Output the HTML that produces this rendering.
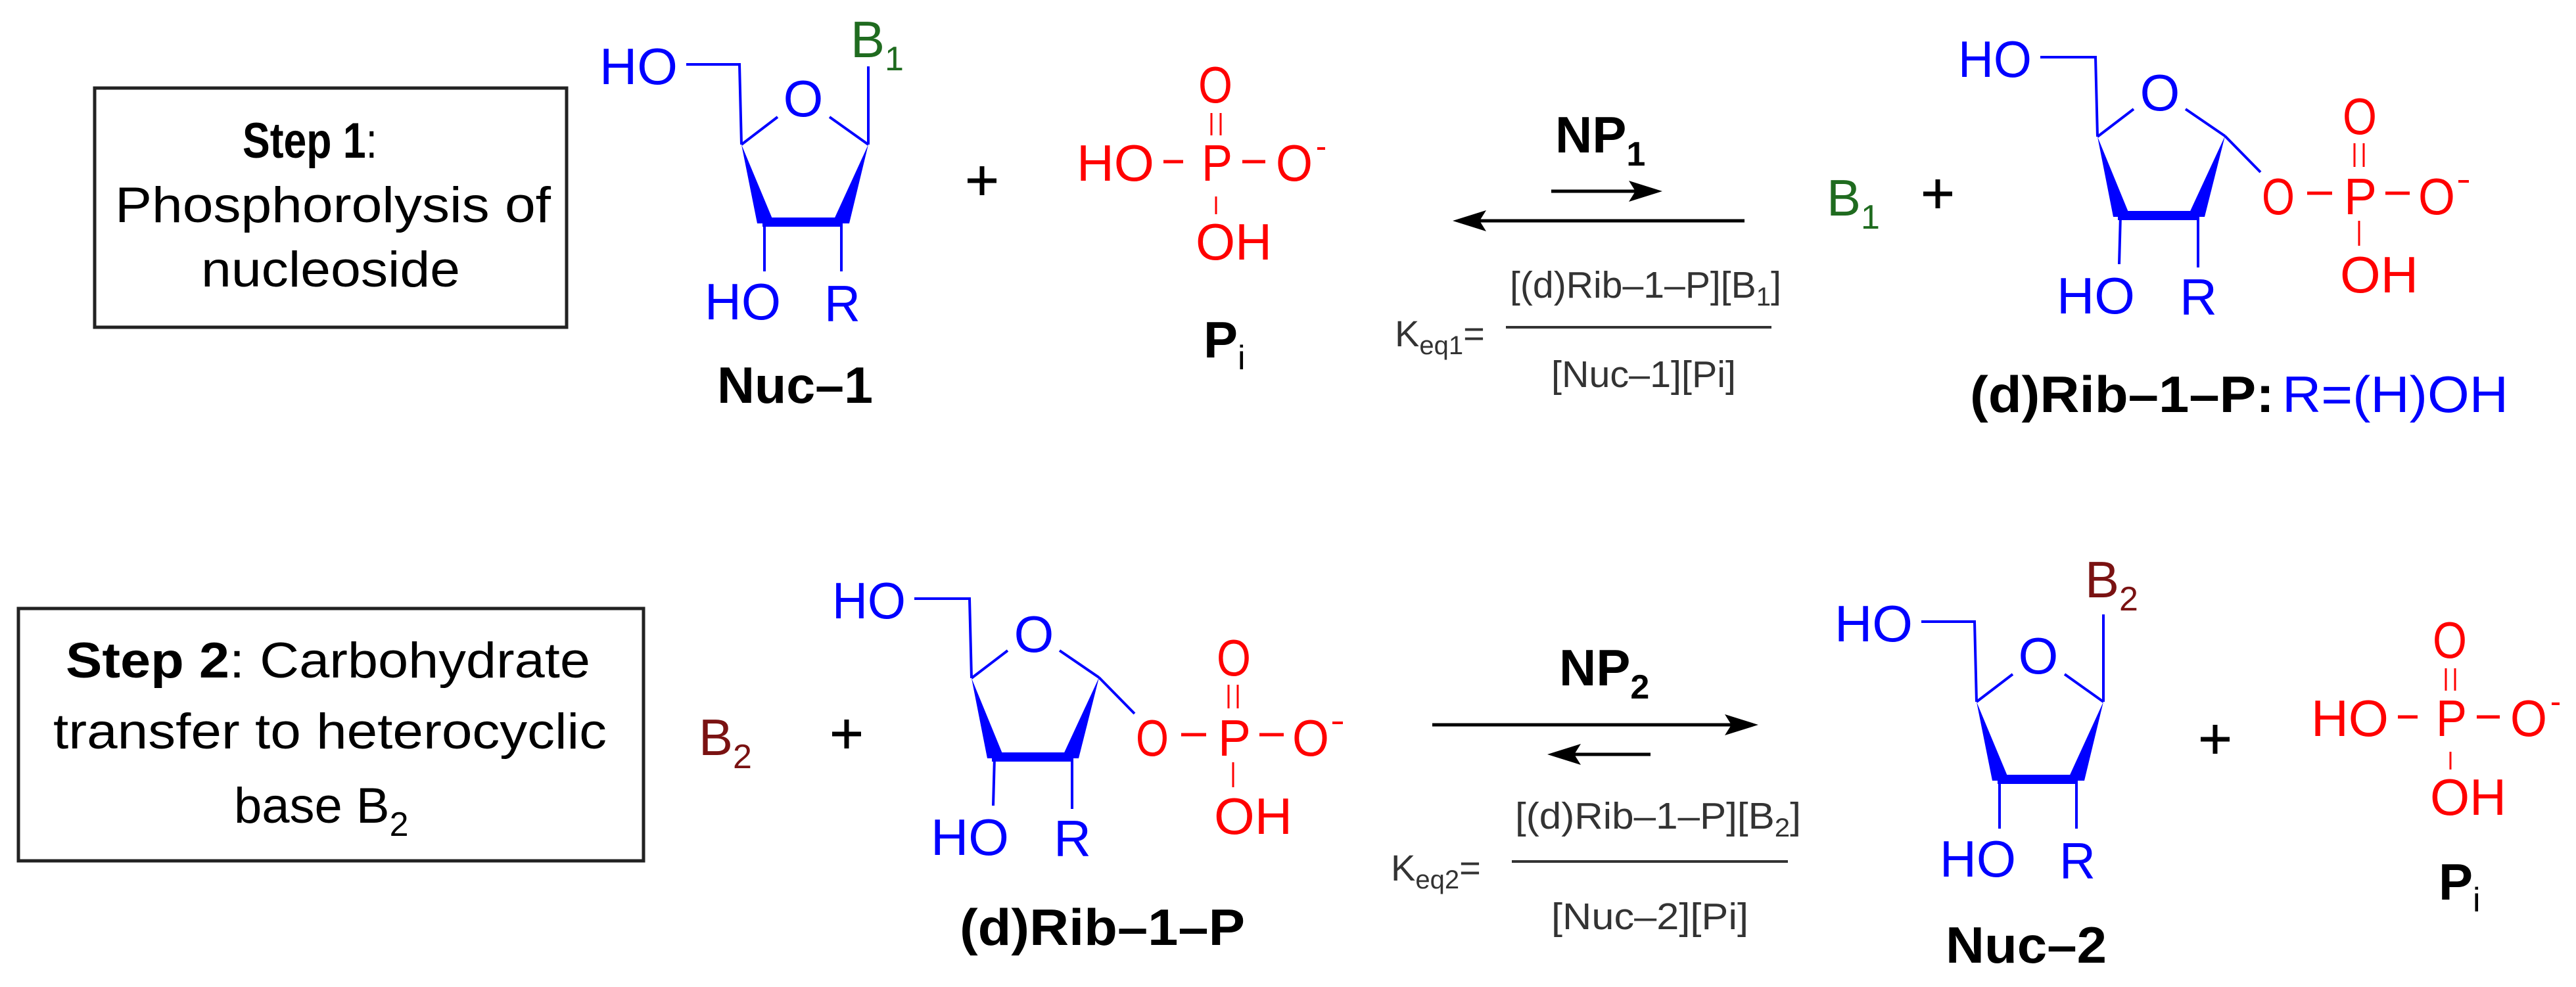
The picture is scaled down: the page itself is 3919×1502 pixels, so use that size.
<!DOCTYPE html>
<html><head><meta charset="utf-8"><style>
html,body{margin:0;padding:0;background:#fff;}
svg{display:block;}
text{font-family:"Liberation Sans",Arial,sans-serif;}
</style></head><body>
<svg width="3919" height="1502" viewBox="0 0 3919 1502" xmlns="http://www.w3.org/2000/svg">
<defs>
<marker id="ah" viewBox="0 0 10 10" refX="9" refY="5" markerWidth="10" markerHeight="10" markerUnits="userSpaceOnUse"></marker>
</defs>
<rect width="3919" height="1502" fill="#fff"/>

<!-- Step 1 box -->
<rect x="144" y="134" width="718" height="364" fill="none" stroke="#222" stroke-width="5"/>
<text x="369" y="240" font-size="76" font-weight="bold" textLength="205" lengthAdjust="spacingAndGlyphs">Step 1<tspan font-weight="normal">:</tspan></text>
<text x="175" y="338" font-size="76" textLength="663" lengthAdjust="spacingAndGlyphs">Phosphorolysis of</text>
<text x="306" y="436" font-size="76" textLength="394" lengthAdjust="spacingAndGlyphs">nucleoside</text>

<!-- Nuc-1 -->
<g id="nuc1">
<text x="912" y="128" font-size="78" fill="#0000ff" textLength="119" lengthAdjust="spacingAndGlyphs">HO</text>
<g stroke="#0000ff" stroke-width="4" fill="none">
<polyline points="1044,98 1125,98 1128,220"/>
<line x1="1128" y1="220" x2="1183" y2="178"/>
<line x1="1262" y1="178" x2="1321" y2="220"/>
<line x1="1163" y1="338" x2="1163" y2="413"/>
<line x1="1280" y1="338" x2="1280" y2="413"/>
</g>
<text x="1222" y="177" font-size="78" fill="#0000ff" text-anchor="middle">O</text>
<polygon points="1128,220 1152,340 1178,340" fill="#0000ff"/>
<polygon points="1321,220 1266,340 1292,340" fill="#0000ff"/>
<rect x="1160" y="331" width="122" height="14" fill="#0000ff"/>
<text x="1072" y="486" font-size="78" fill="#0000ff" textLength="116" lengthAdjust="spacingAndGlyphs">HO</text>
<text x="1254" y="489" font-size="78" fill="#0000ff" textLength="55" lengthAdjust="spacingAndGlyphs">R</text>
</g>
<line x1="1321" y1="101" x2="1321" y2="220" stroke="#0000ff" stroke-width="4"/>
<text x="1294" y="87" font-size="78" fill="#1f6b1f">B<tspan font-size="52" dy="20">1</tspan></text>
<text x="1091" y="613" font-size="78" font-weight="bold" textLength="237" lengthAdjust="spacingAndGlyphs">Nuc–1</text>

<!-- plus -->
<g stroke="#000" stroke-width="7">
<line x1="1472" y1="275" x2="1516" y2="275"/><line x1="1494" y1="253" x2="1494" y2="297"/>
</g>

<!-- Phosphate Pi -->
<g id="pi">
<text x="1638" y="275" font-size="78" fill="#ff0000" textLength="118" lengthAdjust="spacingAndGlyphs">HO</text>
<line x1="1770" y1="246" x2="1800" y2="246" stroke="#ff0000" stroke-width="5"/>
<text x="1828" y="275" font-size="78" fill="#ff0000" textLength="47" lengthAdjust="spacingAndGlyphs">P</text>
<line x1="1890" y1="246" x2="1925" y2="246" stroke="#ff0000" stroke-width="5"/>
<text x="1941" y="275" font-size="78" fill="#ff0000" textLength="56" lengthAdjust="spacingAndGlyphs">O</text>
<line x1="2004" y1="226" x2="2016" y2="226" stroke="#ff0000" stroke-width="4"/>
<text x="1823" y="156" font-size="78" fill="#ff0000" textLength="52" lengthAdjust="spacingAndGlyphs">O</text>
<g stroke="#ff0000" stroke-width="3">
<line x1="1843" y1="172" x2="1843" y2="206"/><line x1="1857" y1="172" x2="1857" y2="206"/>
<line x1="1850" y1="299" x2="1850" y2="326"/>
</g>
<text x="1819" y="395" font-size="78" fill="#ff0000" textLength="116" lengthAdjust="spacingAndGlyphs">OH</text>
</g>
<text x="1831" y="544" font-size="78" font-weight="bold">P<tspan font-size="52" dy="18" font-weight="normal">i</tspan></text>

<!-- NP1 arrows -->
<text x="2366" y="232" font-size="78" font-weight="bold">NP<tspan font-size="52" dy="20">1</tspan></text>
<line x1="2360" y1="291" x2="2500" y2="291" stroke="#000" stroke-width="5"/>
<polygon points="2529,291 2478,275 2488,291 2478,307" fill="#000"/>
<line x1="2240" y1="336" x2="2654" y2="336" stroke="#000" stroke-width="5"/>
<polygon points="2210,336 2261,320 2251,336 2261,352" fill="#000"/>
<g fill="#333">
<text x="2122" y="527" font-size="56">K<tspan font-size="40" dy="12">eq1</tspan><tspan dy="-12">=</tspan></text>
<text x="2297" y="453" font-size="57" textLength="413" lengthAdjust="spacingAndGlyphs">[(d)Rib–1–P][B<tspan font-size="40" dy="12">1</tspan><tspan dy="-12">]</tspan></text>
<rect x="2291" y="496" width="404" height="4"/>
<text x="2360" y="589" font-size="57" textLength="281" lengthAdjust="spacingAndGlyphs">[Nuc–1][Pi]</text>
</g>

<text x="2779" y="328" font-size="78" fill="#1f6b1f">B<tspan font-size="52" dy="20">1</tspan></text>
<g stroke="#000" stroke-width="7">
<line x1="2926" y1="295" x2="2970" y2="295"/><line x1="2948" y1="273" x2="2948" y2="317"/>
</g>

<!-- Rib-1-P top -->
<g id="ribp">
<text x="2979" y="117" font-size="78" fill="#0000ff" textLength="112" lengthAdjust="spacingAndGlyphs">HO</text>
<g stroke="#0000ff" stroke-width="4" fill="none">
<polyline points="3104,87 3188,87 3191,208"/>
<line x1="3191" y1="208" x2="3246" y2="166"/>
<line x1="3325" y1="166" x2="3385" y2="207"/>
<line x1="3385" y1="207" x2="3439" y2="262"/>
<line x1="3226" y1="328" x2="3224" y2="402"/>
<line x1="3344" y1="328" x2="3344" y2="407"/>
</g>
<text x="3286" y="168" font-size="78" fill="#0000ff" text-anchor="middle">O</text>
<polygon points="3191,208 3215,330 3241,330" fill="#0000ff"/>
<polygon points="3385,207 3328,330 3354,330" fill="#0000ff"/>
<rect x="3222" y="321" width="124" height="14" fill="#0000ff"/>
<text x="3129" y="477" font-size="78" fill="#0000ff" textLength="119" lengthAdjust="spacingAndGlyphs">HO</text>
<text x="3316" y="479" font-size="78" fill="#0000ff" textLength="57" lengthAdjust="spacingAndGlyphs">R</text>
<text x="3441" y="326" font-size="78" fill="#ff0000" textLength="50" lengthAdjust="spacingAndGlyphs">O</text>
<line x1="3510" y1="294" x2="3548" y2="294" stroke="#ff0000" stroke-width="5"/>
<text x="3566" y="326" font-size="78" fill="#ff0000" textLength="50" lengthAdjust="spacingAndGlyphs">P</text>
<line x1="3629" y1="294" x2="3666" y2="294" stroke="#ff0000" stroke-width="5"/>
<text x="3679" y="326" font-size="78" fill="#ff0000" textLength="56" lengthAdjust="spacingAndGlyphs">O</text>
<line x1="3740" y1="276" x2="3756" y2="276" stroke="#ff0000" stroke-width="4"/>
<text x="3564" y="204" font-size="78" fill="#ff0000" textLength="52" lengthAdjust="spacingAndGlyphs">O</text>
<g stroke="#ff0000" stroke-width="3">
<line x1="3582" y1="218" x2="3582" y2="254"/><line x1="3596" y1="218" x2="3596" y2="254"/>
<line x1="3589" y1="336" x2="3589" y2="374"/>
</g>
<text x="3560" y="445" font-size="78" fill="#ff0000" textLength="119" lengthAdjust="spacingAndGlyphs">OH</text>
</g>
<text x="2997" y="627" font-size="78" font-weight="bold" textLength="463" lengthAdjust="spacingAndGlyphs">(d)Rib–1–P:</text>
<text x="3472" y="627" font-size="78" fill="#0000ff" textLength="344" lengthAdjust="spacingAndGlyphs">R=(H)OH</text>

<!-- Step 2 box -->
<rect x="28" y="926" width="951" height="384" fill="none" stroke="#222" stroke-width="5"/>
<text x="100" y="1031" font-size="76" textLength="798" lengthAdjust="spacingAndGlyphs"><tspan font-weight="bold">Step 2</tspan>: Carbohydrate</text>
<text x="81" y="1139" font-size="76" textLength="842" lengthAdjust="spacingAndGlyphs">transfer to heterocyclic</text>
<text x="356" y="1252" font-size="76">base B<tspan font-size="52" dy="20">2</tspan></text>

<text x="1063" y="1149" font-size="78" fill="#7a1212">B<tspan font-size="52" dy="20">2</tspan></text>
<g stroke="#000" stroke-width="7">
<line x1="1266" y1="1117" x2="1310" y2="1117"/><line x1="1288" y1="1095" x2="1288" y2="1139"/>
</g>

<!-- Rib-1-P bottom -->
<g transform="translate(-1713,824)">
<text x="2979" y="117" font-size="78" fill="#0000ff" textLength="112" lengthAdjust="spacingAndGlyphs">HO</text>
<g stroke="#0000ff" stroke-width="4" fill="none">
<polyline points="3104,87 3188,87 3191,208"/>
<line x1="3191" y1="208" x2="3246" y2="166"/>
<line x1="3325" y1="166" x2="3385" y2="207"/>
<line x1="3385" y1="207" x2="3439" y2="262"/>
<line x1="3226" y1="328" x2="3224" y2="402"/>
<line x1="3344" y1="328" x2="3344" y2="407"/>
</g>
<text x="3286" y="168" font-size="78" fill="#0000ff" text-anchor="middle">O</text>
<polygon points="3191,208 3215,330 3241,330" fill="#0000ff"/>
<polygon points="3385,207 3328,330 3354,330" fill="#0000ff"/>
<rect x="3222" y="321" width="124" height="14" fill="#0000ff"/>
<text x="3129" y="477" font-size="78" fill="#0000ff" textLength="119" lengthAdjust="spacingAndGlyphs">HO</text>
<text x="3316" y="479" font-size="78" fill="#0000ff" textLength="57" lengthAdjust="spacingAndGlyphs">R</text>
<text x="3441" y="326" font-size="78" fill="#ff0000" textLength="50" lengthAdjust="spacingAndGlyphs">O</text>
<line x1="3510" y1="294" x2="3548" y2="294" stroke="#ff0000" stroke-width="5"/>
<text x="3566" y="326" font-size="78" fill="#ff0000" textLength="50" lengthAdjust="spacingAndGlyphs">P</text>
<line x1="3629" y1="294" x2="3666" y2="294" stroke="#ff0000" stroke-width="5"/>
<text x="3679" y="326" font-size="78" fill="#ff0000" textLength="56" lengthAdjust="spacingAndGlyphs">O</text>
<line x1="3740" y1="276" x2="3756" y2="276" stroke="#ff0000" stroke-width="4"/>
<text x="3564" y="204" font-size="78" fill="#ff0000" textLength="52" lengthAdjust="spacingAndGlyphs">O</text>
<g stroke="#ff0000" stroke-width="3">
<line x1="3582" y1="218" x2="3582" y2="254"/><line x1="3596" y1="218" x2="3596" y2="254"/>
<line x1="3589" y1="336" x2="3589" y2="374"/>
</g>
<text x="3560" y="445" font-size="78" fill="#ff0000" textLength="119" lengthAdjust="spacingAndGlyphs">OH</text>
</g>
<text x="1460" y="1438" font-size="78" font-weight="bold" textLength="434" lengthAdjust="spacingAndGlyphs">(d)Rib–1–P</text>

<!-- NP2 arrows -->
<text x="2372" y="1043" font-size="78" font-weight="bold">NP<tspan font-size="52" dy="20">2</tspan></text>
<line x1="2179" y1="1103" x2="2645" y2="1103" stroke="#000" stroke-width="5"/>
<polygon points="2675,1103 2624,1087 2634,1103 2624,1119" fill="#000"/>
<line x1="2380" y1="1148" x2="2511" y2="1148" stroke="#000" stroke-width="5"/>
<polygon points="2354,1148 2405,1132 2395,1148 2405,1164" fill="#000"/>
<g fill="#333">
<text x="2116" y="1340" font-size="56">K<tspan font-size="40" dy="12">eq2</tspan><tspan dy="-12">=</tspan></text>
<text x="2305" y="1261" font-size="57" textLength="435" lengthAdjust="spacingAndGlyphs">[(d)Rib–1–P][B<tspan font-size="40" dy="12">2</tspan><tspan dy="-12">]</tspan></text>
<rect x="2300" y="1309" width="420" height="4"/>
<text x="2360" y="1414" font-size="57" textLength="300" lengthAdjust="spacingAndGlyphs">[Nuc–2][Pi]</text>
</g>

<!-- Nuc-2 -->
<g transform="translate(1879,848)">
<text x="912" y="128" font-size="78" fill="#0000ff" textLength="119" lengthAdjust="spacingAndGlyphs">HO</text>
<g stroke="#0000ff" stroke-width="4" fill="none">
<polyline points="1044,98 1125,98 1128,220"/>
<line x1="1128" y1="220" x2="1183" y2="178"/>
<line x1="1262" y1="178" x2="1321" y2="220"/>
<line x1="1163" y1="338" x2="1163" y2="413"/>
<line x1="1280" y1="338" x2="1280" y2="413"/>
<line x1="1321" y1="87" x2="1321" y2="220"/>
</g>
<text x="1222" y="177" font-size="78" fill="#0000ff" text-anchor="middle">O</text>
<polygon points="1128,220 1152,340 1178,340" fill="#0000ff"/>
<polygon points="1321,220 1266,340 1292,340" fill="#0000ff"/>
<rect x="1160" y="331" width="122" height="14" fill="#0000ff"/>
<text x="1072" y="486" font-size="78" fill="#0000ff" textLength="116" lengthAdjust="spacingAndGlyphs">HO</text>
<text x="1254" y="489" font-size="78" fill="#0000ff" textLength="55" lengthAdjust="spacingAndGlyphs">R</text>
</g>
<text x="3172" y="909" font-size="78" fill="#7a1212">B<tspan font-size="52" dy="20">2</tspan></text>
<text x="2960" y="1465" font-size="78" font-weight="bold" textLength="245" lengthAdjust="spacingAndGlyphs">Nuc–2</text>

<g stroke="#000" stroke-width="7">
<line x1="3348" y1="1125" x2="3392" y2="1125"/><line x1="3370" y1="1103" x2="3370" y2="1147"/>
</g>

<!-- Pi bottom -->
<g transform="translate(1878,845)">
<text x="1638" y="275" font-size="78" fill="#ff0000" textLength="118" lengthAdjust="spacingAndGlyphs">HO</text>
<line x1="1770" y1="246" x2="1800" y2="246" stroke="#ff0000" stroke-width="5"/>
<text x="1828" y="275" font-size="78" fill="#ff0000" textLength="47" lengthAdjust="spacingAndGlyphs">P</text>
<line x1="1890" y1="246" x2="1925" y2="246" stroke="#ff0000" stroke-width="5"/>
<text x="1941" y="275" font-size="78" fill="#ff0000" textLength="56" lengthAdjust="spacingAndGlyphs">O</text>
<line x1="2004" y1="226" x2="2016" y2="226" stroke="#ff0000" stroke-width="4"/>
<text x="1823" y="156" font-size="78" fill="#ff0000" textLength="52" lengthAdjust="spacingAndGlyphs">O</text>
<g stroke="#ff0000" stroke-width="3">
<line x1="1843" y1="172" x2="1843" y2="206"/><line x1="1857" y1="172" x2="1857" y2="206"/>
<line x1="1850" y1="299" x2="1850" y2="326"/>
</g>
<text x="1819" y="395" font-size="78" fill="#ff0000" textLength="116" lengthAdjust="spacingAndGlyphs">OH</text>
</g>
<text x="3710" y="1369" font-size="78" font-weight="bold">P<tspan font-size="52" dy="18" font-weight="normal">i</tspan></text>
</svg>
</body></html>
